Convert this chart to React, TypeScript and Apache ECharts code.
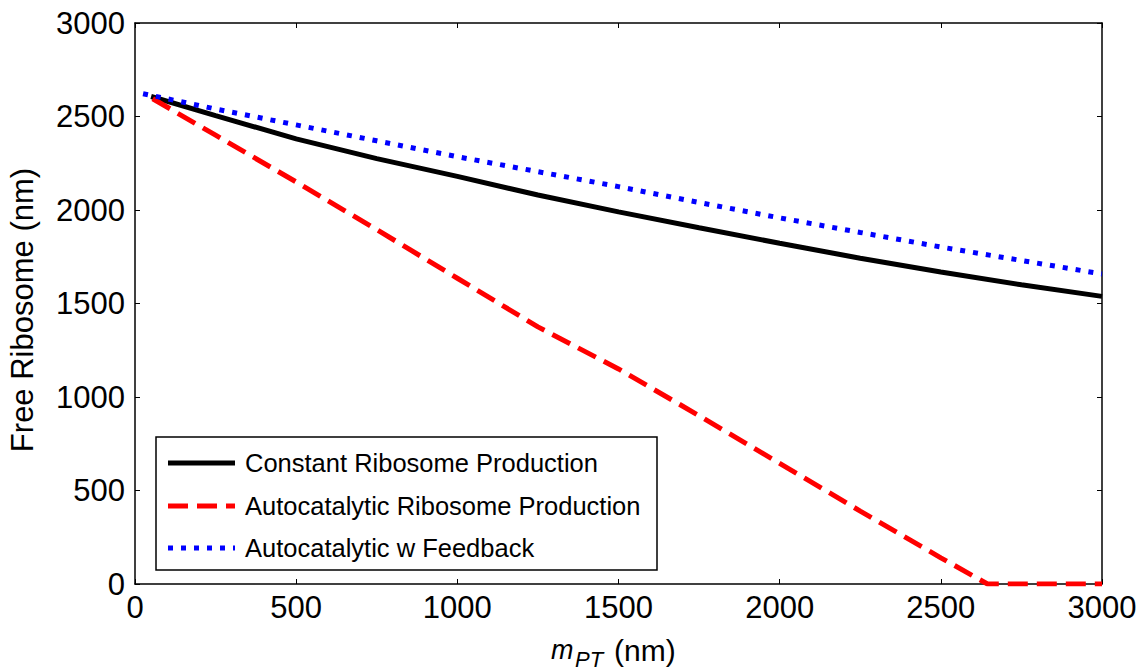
import React, { useEffect, useRef } from "react";
import * as echarts from "echarts";

const xTicks = [0, 500, 1000, 1500, 2000, 2500, 3000];
const yTicks = [0, 500, 1000, 1500, 2000, 2500, 3000];

const constantX = [50, 250, 500, 750, 1000, 1250, 1500, 1750, 2000, 2250, 2500, 2750, 3000];
const constantY = [2607, 2505, 2380, 2275, 2180, 2080, 1990, 1905, 1822, 1742, 1668, 1600, 1538];

const autoX = [55, 250, 500, 750, 1000, 1250, 1500, 1750, 2000, 2250, 2500, 2645, 3000];
const autoY = [2595, 2400, 2150, 1895, 1635, 1375, 1150, 900, 645, 390, 140, 0, 0];

const feedbackX = [25, 250, 500, 750, 1000, 1250, 1500, 1750, 2000, 2250, 2500, 2750, 3000];
const feedbackY = [2622, 2540, 2455, 2370, 2285, 2205, 2125, 2040, 1958, 1880, 1802, 1730, 1658];

const seriesNames = [
  "Constant Ribosome Production",
  "Autocatalytic Ribosome Production",
  "Autocatalytic w Feedback",
];
const seriesColors = ["#000000", "#ff0000", "#0000ff"];
const seriesDash: (number[] | null)[] = [null, [20, 9], [5, 8]];

const FONT = "Liberation Sans, Arial, sans-serif";

function pairs(xs: number[], ys: number[]) {
  return xs.map((x, i) => [x, ys[i]]);
}

export default function App() {
  const ref = useRef<HTMLDivElement>(null);
  useEffect(() => {
    if (!ref.current) return;
    const chart = echarts.init(ref.current, undefined, { renderer: "svg" });
    const axisCommon = {
      min: xTicks[0],
      max: xTicks[xTicks.length - 1],
      interval: 500,
      axisLine: { show: true, onZero: false, lineStyle: { color: "#000", width: 1.5 } },
      axisTick: { show: true, inside: true, length: 5, lineStyle: { color: "#000", width: 1 } },
      splitLine: { show: false },
    };

    const legendTop = 437;
    const rowYs = [463, 506, 548];
    const legendGraphics: any[] = [
      {
        type: "rect",
        z: 100,
        shape: { x: 156, y: legendTop, width: 501, height: 133 },
        style: { fill: "#fff", stroke: "#000", lineWidth: 1.5 },
      },
    ];
    seriesNames.forEach((name, i) => {
      legendGraphics.push({
        type: "line",
        z: 101,
        shape: { x1: 168, y1: rowYs[i], x2: 235, y2: rowYs[i] },
        style: {
          stroke: seriesColors[i],
          lineWidth: 5,
          lineDash: seriesDash[i] || undefined,
          lineCap: "butt",
        },
      });
      legendGraphics.push({
        type: "text",
        z: 101,
        x: 245,
        y: rowYs[i],
        style: {
          text: name,
          fontFamily: FONT,
          fontSize: 25.5,
          fill: "#000",
          align: "left",
          verticalAlign: "middle",
        },
      });
    });

    chart.setOption({
      animation: false,
      backgroundColor: "#fff",
      grid: { left: 135, right: 40, top: 23, bottom: 87, containLabel: false },
      xAxis: [
        {
          ...axisCommon,
          type: "value",
          position: "bottom",
          axisLabel: {
            fontFamily: FONT,
            fontSize: 31,
            color: "#000",
            margin: 8,
            formatter: (v: number) => String(v),
          },
        },
        {
          ...axisCommon,
          type: "value",
          position: "top",
          axisLabel: { show: false },
        },
      ],
      yAxis: [
        {
          ...axisCommon,
          min: yTicks[0],
          max: yTicks[yTicks.length - 1],
          type: "value",
          position: "left",
          axisLabel: {
            fontFamily: FONT,
            fontSize: 31,
            color: "#000",
            margin: 10,
            formatter: (v: number) => String(v),
          },
        },
        {
          ...axisCommon,
          min: yTicks[0],
          max: yTicks[yTicks.length - 1],
          type: "value",
          position: "right",
          axisLabel: { show: false },
        },
      ],
      series: [
        {
          name: seriesNames[0],
          type: "line",
          data: pairs(constantX, constantY),
          showSymbol: false,
          symbol: "none",
          lineStyle: { color: seriesColors[0], width: 5, type: "solid" },
          itemStyle: { color: seriesColors[0] },
        },
        {
          name: seriesNames[1],
          type: "line",
          data: pairs(autoX, autoY),
          showSymbol: false,
          symbol: "none",
          lineStyle: { color: seriesColors[1], width: 5, type: seriesDash[1], cap: "butt" },
          itemStyle: { color: seriesColors[1] },
        },
        {
          name: seriesNames[2],
          type: "line",
          data: pairs(feedbackX, feedbackY),
          showSymbol: false,
          symbol: "none",
          lineStyle: { color: seriesColors[2], width: 5, type: seriesDash[2], cap: "butt" },
          itemStyle: { color: seriesColors[2] },
        },
      ],
      graphic: [
        {
          type: "text",
          x: 22,
          y: 310,
          rotation: Math.PI / 2,
          style: {
            text: "Free Ribosome (nm)",
            fontFamily: FONT,
            fontSize: 31,
            fill: "#000",
            align: "center",
            verticalAlign: "middle",
          },
        },
        {
          type: "text",
          x: 551,
          y: 650,
          style: { text: "m", fontFamily: FONT, fontSize: 27, fontStyle: "italic", fill: "#000", align: "left", verticalAlign: "middle" },
        },
        {
          type: "text",
          x: 575,
          y: 659,
          style: { text: "PT", fontFamily: FONT, fontSize: 22, fontStyle: "italic", fill: "#000", align: "left", verticalAlign: "middle" },
        },
        {
          type: "text",
          x: 614,
          y: 650,
          style: { text: "(nm)", fontFamily: FONT, fontSize: 30, fill: "#000", align: "left", verticalAlign: "middle" },
        },
        ...legendGraphics,
      ],
    });
    return () => chart.dispose();
  }, []);
  return (
    <div
      ref={ref}
      style={{ position: "fixed", left: 0, top: 0, width: 1142, height: 671, background: "#fff" }}
    />
  );
}
